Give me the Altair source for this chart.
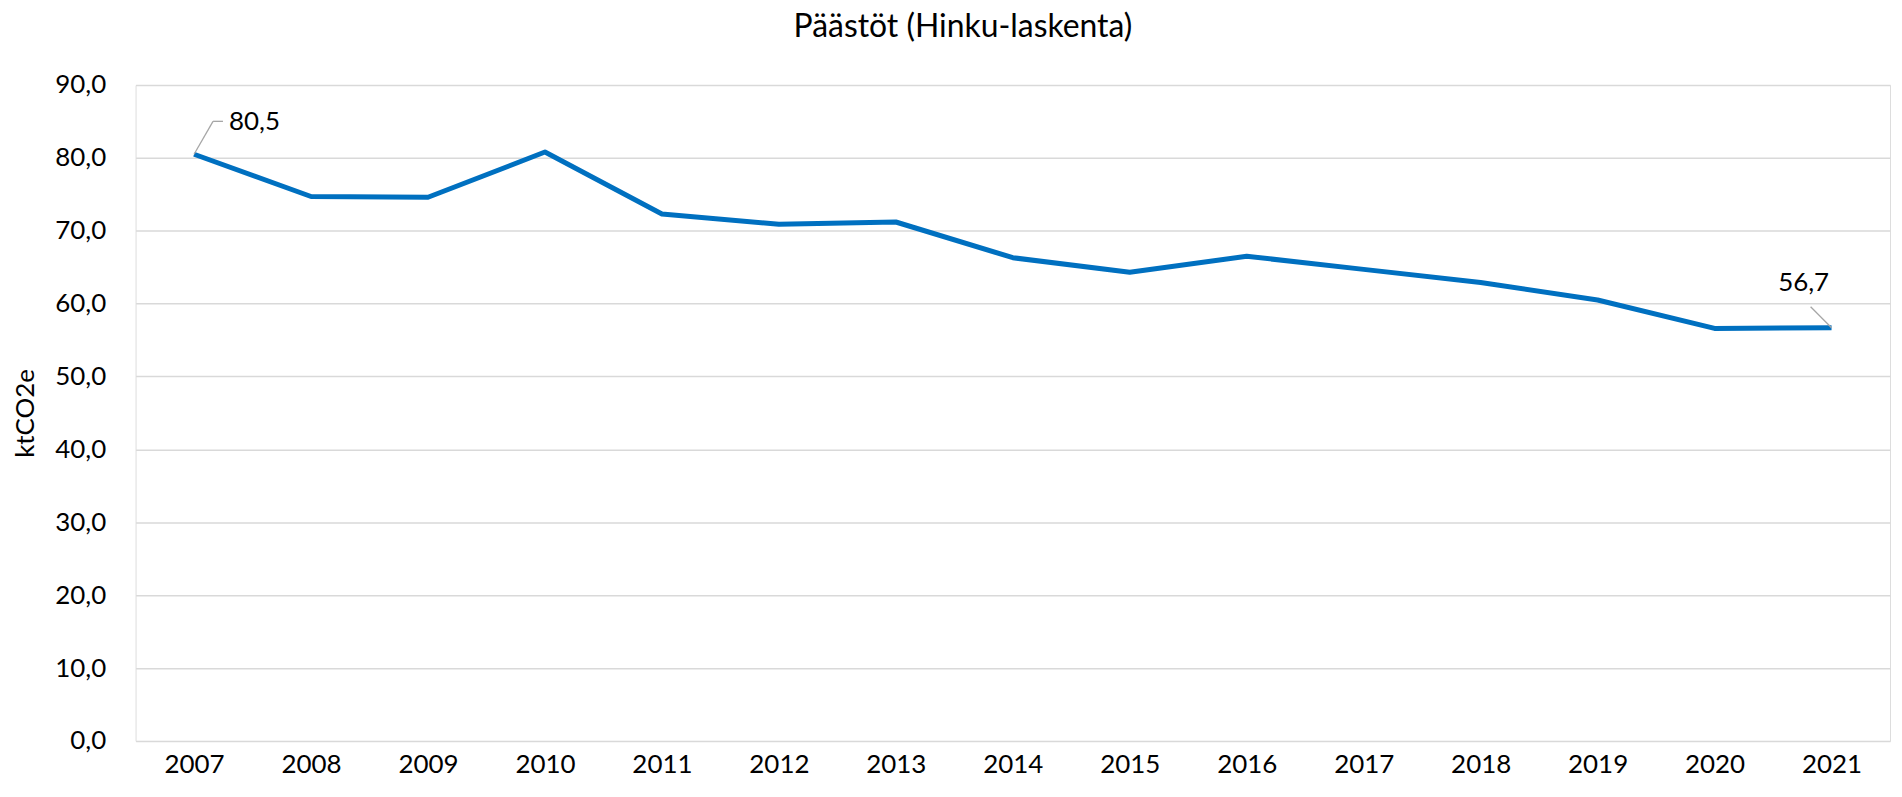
import altair as alt
import pandas as pd

years = ["2007", "2008", "2009", "2010", "2011", "2012", "2013", "2014",
         "2015", "2016", "2017", "2018", "2019", "2020", "2021"]
values = [80.5, 74.7, 74.6, 80.8, 72.3, 70.9, 71.2, 66.3,
          64.3, 66.5, 64.7, 62.9, 60.5, 56.6, 56.7]
labelled_years = ["2007", "2021"]

df = pd.DataFrame({"year": years, "value": values})
df["label"] = df["value"].map(lambda v: f"{v:.1f}".replace(".", ","))

FONT = "Lato"
BLUE = "#0070C0"
GRID = "#D9D9D9"
FS = 26

x = alt.X("year:O", scale=alt.Scale(type="point", padding=0.5),
          axis=alt.Axis(title=None, labelAngle=0, labelFontSize=FS, labelFont=FONT,
                        labelColor="#000000", labelPadding=11, ticks=False, domain=False,
                        grid=False))
y = alt.Y("value:Q", scale=alt.Scale(domain=[0, 90], nice=False, zero=True),
          axis=alt.Axis(title="ktCO2e", values=list(range(0, 91, 10)),
                        labelExpr="replace(format(datum.value, '.1f'), '.', ',')",
                        labelFontSize=FS, labelFont=FONT, labelColor="#000000",
                        labelPadding=30, ticks=False, domain=False,
                        grid=True, gridColor=GRID, gridWidth=1.5,
                        titleFont=FONT, titleFontSize=FS, titleFontWeight="normal",
                        titleColor="#000000", titleAngle=-90, titleX=-110, titleY=329,
                        titleAlign="center", titleBaseline="middle"))

line = alt.Chart(df).mark_line(color=BLUE, strokeWidth=5, strokeJoin="round").encode(x=x, y=y)

first = df[df["year"] == labelled_years[0]]
last = df[df["year"] == labelled_years[1]]

lead1a = alt.Chart(first).mark_rule(color="#A6A6A6", strokeWidth=1.3, x2Offset=19, y2Offset=-33).encode(
    x="year:O", x2="year:O", y="value:Q", y2="value:Q")
lead1b = alt.Chart(first).mark_rule(color="#A6A6A6", strokeWidth=1.3, xOffset=19, x2Offset=29,
                                    yOffset=-33, y2Offset=-33).encode(
    x="year:O", x2="year:O", y="value:Q", y2="value:Q")
lead2 = alt.Chart(last).mark_rule(color="#A6A6A6", strokeWidth=1.3, x2Offset=-21, y2Offset=-21).encode(
    x="year:O", x2="year:O", y="value:Q", y2="value:Q")

text1 = alt.Chart(first).mark_text(font=FONT, fontSize=FS, color="#000000", align="left",
                                   baseline="middle", dx=35, dy=-32).encode(
    x="year:O", y="value:Q", text="label:N")
text2 = alt.Chart(last).mark_text(font=FONT, fontSize=FS, color="#000000", align="center",
                                  baseline="middle", dx=-28, dy=-45).encode(
    x="year:O", y="value:Q", text="label:N")

chart = alt.layer(line, lead1a, lead1b, lead2, text1, text2).properties(
    width=1760, height=658,
    title=alt.TitleParams("Päästöt (Hinku-laskenta)", font=FONT, fontSize=32,
                          fontWeight="normal", color="#000000", anchor="middle",
                          offset=28, dx=-50),
    autosize=alt.AutoSizeParams(type="none"),
    padding={"left": 128, "top": 76, "right": 4, "bottom": 45},
).configure_view(stroke=None).configure(background="white")

chart.save("out.html", embed_options={"renderer": "svg", "actions": False})
